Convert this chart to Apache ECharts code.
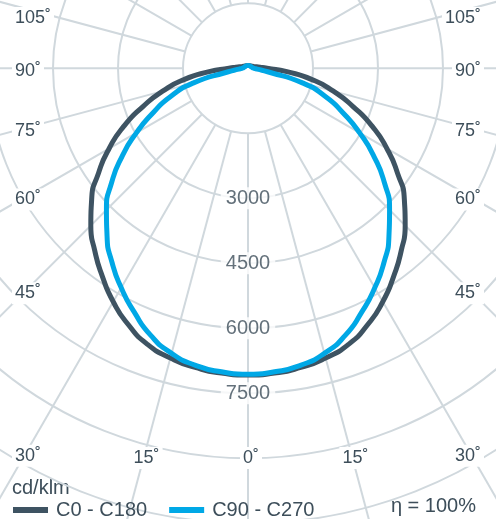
<!DOCTYPE html>
<html><head><meta charset="utf-8">
<script src="https://cdn.jsdelivr.net/npm/echarts@6/dist/echarts.min.js"></script>
<style>html,body{margin:0;padding:0;background:#fff}#c{width:496px;height:519px}</style>
</head><body><div id="c"></div>
<script>
// gamma angles (deg from nadir) and intensities (cd/klm); distributions are symmetric
const gammaAngles = [0,5,10,15,20,25,30,35,40,45,50,55,60,65,70,75,80,85,90,95,100,110,120,135,150,165,180];
const c0c180  = [7080,7060,7010,6920,6780,6530,6220,5860,5500,5130,4710,4210,3700,3160,2580,2040,1500,900,440,280,200,130,100,80,70,65,65];
const c90c270 = [7060,7030,6960,6810,6560,6210,5850,5470,5060,4620,4110,3550,2970,2410,1900,1300,460,215,140,115,100,88,80,72,68,65,65];
const seriesNames = ['C0 - C180', 'C90 - C270'];
const ringLabels = [3000, 4500, 6000, 7500];
const angleTicks = [0, 15, 30, 45, 60, 75, 90, 105];
const spokeAngles = [0,15,30,45,60,75,90,105,120,135,150,165,180,195,210,225,240,255,270,285,300,315,330,345];
const unitLabel = 'cd/klm';
const effLabel = '\u03b7 = 100%';

const TXT = '#3d4e5a', GRID = '#d0d8dd', DARK = '#3e5362', BLUE = '#00a8e6';
const FONT = '"Liberation Sans", Arial, sans-serif';

function loop(vals) {
  const out = [];
  for (let i = gammaAngles.length - 1; i >= 0; i--) out.push([vals[i], gammaAngles[i]]);
  for (let i = 1; i < gammaAngles.length; i++) out.push([vals[i], 360 - gammaAngles[i]]);
  return out;
}

const angleLabelData = [];
angleTicks.forEach(a => { angleLabelData.push([0, a]); if (a > 0) angleLabelData.push([0, 360 - a]); });

const chart = echarts.init(document.getElementById('c'));
chart.setOption({
  animation: false,
  backgroundColor: '#fff',
  polar: { center: [248, 68.3], radius: 520 },
  angleAxis: {
    type: 'value', min: 0, max: 360, startAngle: 270, clockwise: true,
    axisLine: { show: false }, axisTick: { show: false }, axisLabel: { show: false },
    splitLine: { show: false }
  },
  radiusAxis: {
    type: 'value', min: 0, max: 12000, interval: 1500,
    axisLine: { show: false }, axisTick: { show: false }, axisLabel: { show: false },
    splitLine: { show: true, lineStyle: { color: GRID, width: 2 } }
  },
  legend: {
    data: seriesNames, left: 8, top: 495, icon: 'rect', itemWidth: 35, itemHeight: 6, itemGap: 22,
    textStyle: { fontSize: 20, color: TXT, fontFamily: FONT, padding: [0, 0, 0, 3] }
  },
  graphic: [
    { type: 'text', left: 12, top: 478, style: { text: unitLabel, fontSize: 20, fill: TXT, fontFamily: FONT } },
    { type: 'text', right: 20, top: 496, style: { text: effLabel, fontSize: 20, fill: TXT, fontFamily: FONT } }
  ],
  series: [
    {
      type: 'custom', coordinateSystem: 'polar', silent: true, z: 1,
      data: spokeAngles.map(a => [12000, a]),
      renderItem: function (params, api) {
        const a = api.value(1);
        const p0 = api.coord([1500, a]), p1 = api.coord([12000, a]);
        return { type: 'line', shape: { x1: p0[0], y1: p0[1], x2: p1[0], y2: p1[1] },
                 style: { stroke: GRID, lineWidth: 2 } };
      }
    },
    {
      name: seriesNames[0], type: 'line', coordinateSystem: 'polar', data: loop(c0c180),
      showSymbol: false, smooth: 0.6, z: 3, color: DARK,
      lineStyle: { width: 5, color: DARK }
    },
    {
      name: seriesNames[1], type: 'line', coordinateSystem: 'polar', data: loop(c90c270),
      showSymbol: false, smooth: 0.6, z: 4, color: BLUE,
      lineStyle: { width: 5, color: BLUE }
    },
    {
      type: 'scatter', coordinateSystem: 'polar', silent: true, z: 5, symbolSize: 0,
      data: ringLabels.map(v => [v, 0]),
      label: { show: true, position: 'inside', formatter: p => String(p.value[0]),
               fontSize: 20, color: TXT, fontFamily: FONT, backgroundColor: '#fff', padding: [1, 5] }
    },
    {
      type: 'custom', coordinateSystem: 'polar', silent: true, z: 6,
      data: angleLabelData,
      renderItem: function (params, api) {
        const a = api.value(1);
        const c = api.coord([0, a]), p1 = api.coord([12000, a]);
        let dx = p1[0] - c[0], dy = p1[1] - c[1];
        const len = Math.hypot(dx, dy); dx /= len; dy /= len;
        const L = 26, R = 470, B = 458;
        let tx = Infinity, ty = Infinity;
        if (dx < -1e-6) tx = (L - c[0]) / dx; else if (dx > 1e-6) tx = (R - c[0]) / dx;
        if (dy > 1e-6) ty = (B - c[1]) / dy;
        const gamma = a <= 180 ? a : 360 - a;
        const txt = gamma + '\u02da';
        let x, y, align;
        if (tx < ty) {
          y = Math.max(c[1] + tx * dy + 3, 18);
          if (dx < 0) { x = 12; align = 'left'; } else { x = 484; align = 'right'; }
        } else {
          x = c[0] + ty * dx + 3; y = B; align = 'center';
        }
        return { type: 'text', x: x, y: y,
                 style: { text: txt, fill: TXT, fontSize: 18, fontFamily: FONT,
                          align: align, verticalAlign: 'middle', backgroundColor: '#fff', padding: [2, 3] } };
      }
    }
  ]
});
</script></body></html>
